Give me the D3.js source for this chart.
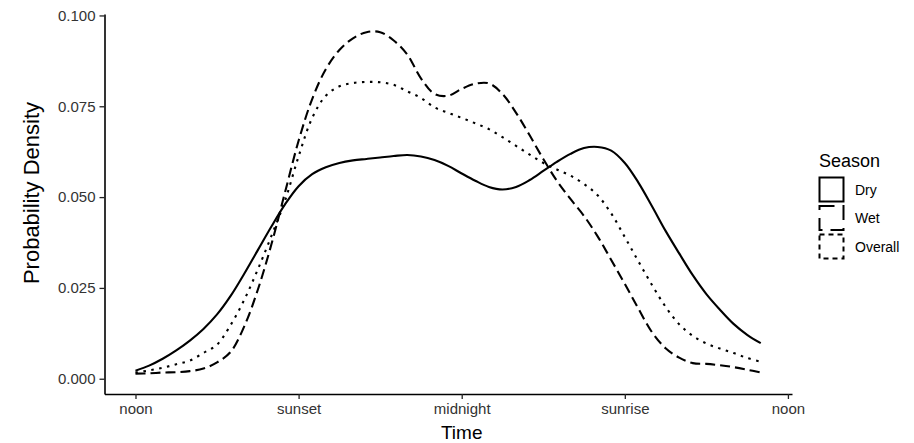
<!DOCTYPE html>
<html>
<head>
<meta charset="utf-8">
<script src="https://cdn.jsdelivr.net/npm/d3@7"></script>
<style>
  html, body { margin: 0; padding: 0; background: #fff; }
  svg { display: block; font-family: "Liberation Sans", Arial, Helvetica, sans-serif; }
</style>
</head>
<body>
<svg id="chart" width="914" height="443"></svg>
<script>
// ---- data (hours after noon, sampled every half hour) ----
const hours = d3.range(0, 23.01, 0.5);
const dry = [0.0022,0.0036,0.0055,0.0078,0.0105,0.0137,0.0177,0.0228,0.0289,0.0354,0.0419,0.0480,
  0.0530,0.0563,0.0582,0.0594,0.0601,0.0605,0.0609,0.0613,0.0616,0.0612,0.0602,0.0586,
  0.0565,0.0545,0.0528,0.0521,0.0528,0.0547,0.0572,0.0597,0.0619,0.0635,0.0638,0.0628,
  0.0594,0.0540,0.0475,0.0407,0.0345,0.0285,0.0233,0.0190,0.0151,0.0121,0.0098];
const wet = [0.0014,0.0015,0.0017,0.0018,0.0021,0.0028,0.0045,0.0074,0.0144,0.0245,0.0370,0.0513,
  0.0655,0.0770,0.0852,0.0905,0.0937,0.0954,0.0954,0.0931,0.0892,0.0827,0.0784,0.0779,
  0.0798,0.0812,0.0813,0.0784,0.0732,0.0670,0.0605,0.0545,0.0495,0.0448,0.0392,0.0327,
  0.0261,0.0193,0.0128,0.0084,0.0058,0.0043,0.0041,0.0037,0.0032,0.0025,0.0017];
const overall = [0.0017,0.0023,0.0030,0.0040,0.0050,0.0071,0.0094,0.0148,0.0217,0.0301,0.0393,0.0490,
  0.0612,0.0718,0.0779,0.0805,0.0814,0.0817,0.0816,0.0809,0.0791,0.0773,0.0747,0.0732,
  0.0718,0.0703,0.0687,0.0665,0.0641,0.0617,0.0594,0.0576,0.0559,0.0536,0.0505,0.0455,
  0.0390,0.0323,0.0258,0.0198,0.0150,0.0118,0.0097,0.0083,0.0071,0.0057,0.0047];
const seasons = ["Dry", "Wet", "Overall"];
const xTickValues = [0, 6, 12, 18, 24];
const xTickLabels = ["noon", "sunset", "midnight", "sunrise", "noon"];
const yTickValues = [0, 0.025, 0.05, 0.075, 0.1];

// ---- layout ----
const svg = d3.select("#chart");
const x = d3.scaleLinear().domain([-1.14, 24.15]).range([104.5, 792]);
const y = d3.scaleLinear().domain([-0.0042, 0.1004]).range([394, 14]);
const dashes = { Dry: null, Wet: "10,5", Overall: "2.5,5.5" };
const keyDashes = { Dry: null, Wet: "15,8", Overall: "5,4" };
const seriesData = { Dry: dry, Wet: wet, Overall: overall };

// curves
const line = d3.line()
  .x((d, i) => x(hours[i]))
  .y(d => y(d))
  .curve(d3.curveCatmullRom.alpha(0.5));

seasons.forEach(s => {
  svg.append("path")
    .attr("d", line(seriesData[s]))
    .attr("fill", "none")
    .attr("stroke", "#000")
    .attr("stroke-width", 2.1)
    .attr("stroke-dasharray", dashes[s]);
});

// axes
const xAxis = d3.axisBottom(x)
  .tickValues(xTickValues)
  .tickFormat((d, i) => xTickLabels[i])
  .tickSize(5).tickSizeOuter(0).tickPadding(4);
const gx = svg.append("g").attr("transform", "translate(0,394)").call(xAxis);

const yAxis = d3.axisLeft(y)
  .tickValues(yTickValues)
  .tickFormat(d3.format(".3f"))
  .tickSize(5).tickSizeOuter(0).tickPadding(4);
const gy = svg.append("g").attr("transform", "translate(104.5,0)").call(yAxis);

[gx, gy].forEach(g => {
  g.selectAll("path.domain").attr("stroke", "#000").attr("stroke-width", 1.6);
  g.selectAll(".tick line").attr("stroke", "#222").attr("stroke-width", 1.3);
  g.selectAll(".tick text")
    .attr("fill", "#333")
    .style("font-size", "15px")
    .style("font-family", '"Liberation Sans", Arial, sans-serif');
});

// axis titles
svg.append("text")
  .attr("x", x(12)).attr("y", 439)
  .attr("text-anchor", "middle")
  .style("font-size", "19px")
  .text("Time");

svg.append("text")
  .attr("transform", "translate(39,193) rotate(-90)")
  .attr("text-anchor", "middle")
  .style("font-size", "22px")
  .text("Probability Density");

// legend
const lg = svg.append("g").attr("transform", "translate(819,0)");
lg.append("text").attr("x", 0).attr("y", 167).style("font-size", "18px").text("Season");
seasons.forEach((s, i) => {
  const ky = 177.5 + i * 28.5;
  lg.append("rect")
    .attr("x", 0.5).attr("y", ky).attr("width", 24).attr("height", 24)
    .attr("fill", "none").attr("stroke", "#000").attr("stroke-width", 2)
    .attr("stroke-dasharray", keyDashes[s]);
  lg.append("text")
    .attr("x", 36).attr("y", ky + 17)
    .style("font-size", "14px")
    .text(s);
});
</script>
</body>
</html>
